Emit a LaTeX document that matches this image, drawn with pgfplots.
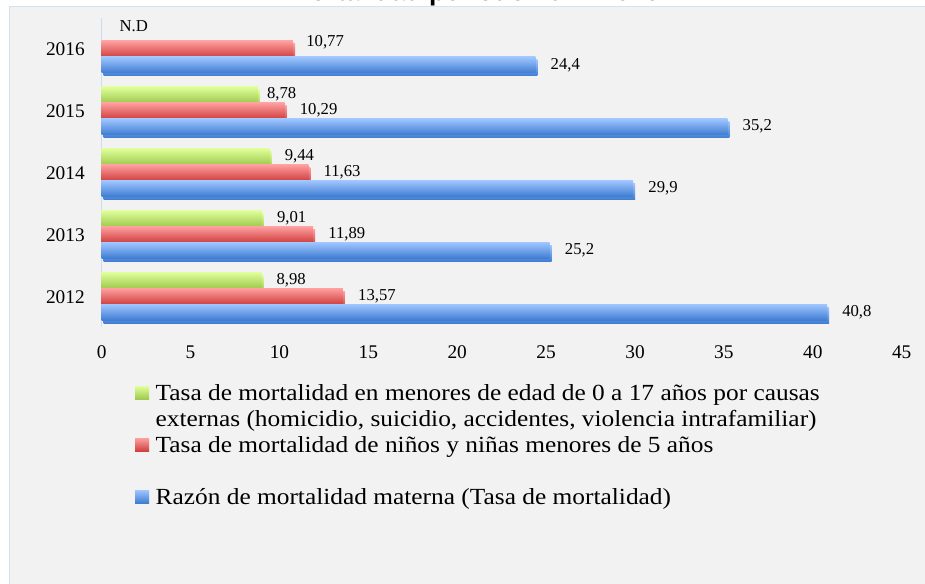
\documentclass[border=0pt]{standalone}
\usepackage{fontspec}
\setmainfont{Liberation Serif}
\newfontfamily\legendfont{Liberation Serif}[FakeStretch=1.1]
\newfontfamily\titlefont{Liberation Sans}
\usepackage{pgfplots}
\pgfplotsset{compat=1.18}
\definecolor{bg}{HTML}{F2F2F2}
\definecolor{framec}{HTML}{D6E1F0}
\definecolor{axisc}{HTML}{CCDDF2}
\definecolor{gtop}{HTML}{E0FF9C}
\definecolor{gbot}{HTML}{A0CA4E}
\definecolor{rtop}{HTML}{FFA0A0}
\definecolor{rbot}{HTML}{D04040}
\definecolor{btop}{HTML}{A0C6FF}
\definecolor{bbot}{HTML}{3F7DD2}
\definecolor{shadowc}{HTML}{CFCFCF}

\makeatletter
\tikzset{nopre/.code={\let\tikz@preactions\pgfutil@empty}}
\makeatother

\pgfplotsset{
  basebar/.style={xbar, bar width=12pt, draw=none,
    preaction={fill=shadowc, transform canvas={xshift=1.5pt, yshift=-2.25pt}},
    nodes near coords, point meta=explicit symbolic},
  gbar/.style={basebar, bar shift=12pt, top color=gtop, bottom color=gbot,
    nodes near coords style={yshift=12pt},
    legend image code/.code={\fill[nopre, top color=gtop, bottom color=gbot] (0pt,0.75pt) rectangle (10.5pt,10.5pt);}},
  rbar/.style={basebar, bar shift=0pt, top color=rtop, bottom color=rbot,
    legend image code/.code={\fill[nopre, top color=rtop, bottom color=rbot] (0pt,0.75pt) rectangle (10.5pt,10.5pt);}},
  bbar/.style={basebar, bar shift=-12pt, top color=btop, bottom color=bbot,
    nodes near coords style={yshift=-12pt},
    legend image code/.code={\fill[nopre, top color=btop, bottom color=bbot] (0pt,0.75pt) rectangle (10.5pt,10.5pt);}},
}

\begin{document}
\begin{tikzpicture}
\path[use as bounding box, clip] (0pt,0pt) rectangle (693.75pt,-438pt);
\fill[white] (0pt,0pt) rectangle (693.75pt,-438pt);
\fill[bg] (6.75pt,-5.25pt) rectangle (700pt,-445pt);
\draw[framec, line width=0.75pt] (6.75pt,-445pt) -- (6.75pt,-5.25pt) -- (700pt,-5.25pt);
\node[font=\titlefont\bfseries\fontsize{19.8}{23}\selectfont, anchor=base, inner sep=0pt] at (355.5pt,-0.75pt) {Mortalidad periodo 2012-2016};
\begin{axis}[
  at={(76.25pt,-245.25pt)}, anchor=south west,
  scale only axis, width=600pt, height=231.75pt,
  xmin=0, xmax=45, ymin=-0.5, ymax=4.5,
  xtick={0,5,...,45}, ytick={0,1,2,3,4},
  yticklabels={2012,2013,2014,2015,2016},
  axis lines*=left,
  x axis line style={draw=none},
  y axis line style={draw=axisc, line width=0.75pt},
  major tick length=0pt,
  tick label style={font=\fontsize{14.5}{17}\selectfont, inner sep=0pt, text=black},
  /pgf/number format/assume math mode=true,
  xticklabel style={anchor=base, yshift=-23.25pt},
  yticklabel style={anchor=base east, xshift=-12.5pt, yshift=-5.25pt},
  clip=false,
  nodes near coords style={font=\fontsize{12.5}{15}\selectfont, anchor=west, inner sep=0pt, xshift=11.25pt, text=black},
  legend style={at={(0.04167,-0.17735)}, anchor=north west, draw=none, fill=none,
    inner sep=0pt, outer sep=0pt, row sep=0pt, column sep=5pt,
    cells={anchor=base west},
    nodes={inner sep=0pt, text=black, text height=13.65pt, text depth=5.85pt,
      font=\legendfont\fontsize{17.3}{19.5}\selectfont}},
]
% 2012 (first bar of each series carries the legend entry)
\addplot[gbar] coordinates {(8.98,0) [8,98]};
\addlegendentry{Tasa de mortalidad en menores de edad de 0 a 17 años por causas}
\addlegendimage{empty legend}
\addlegendentry{externas (homicidio, suicidio, accidentes, violencia intrafamiliar)}
\addplot[rbar] coordinates {(13.57,0) [13,57]};
\addlegendentry{Tasa de mortalidad de niños y niñas menores de 5 años}
\addlegendimage{empty legend}
\addlegendentry{\mbox{}}
\addplot[bbar] coordinates {(40.8,0) [40,8]};
\addlegendentry{Razón de mortalidad materna (Tasa de mortalidad)}
% 2013
\addplot[gbar, forget plot] coordinates {(9.01,1) [9,01]};
\addplot[rbar, forget plot] coordinates {(11.89,1) [11,89]};
\addplot[bbar, forget plot] coordinates {(25.2,1) [25,2]};
% 2014
\addplot[gbar, forget plot] coordinates {(9.44,2) [9,44]};
\addplot[rbar, forget plot] coordinates {(11.63,2) [11,63]};
\addplot[bbar, forget plot] coordinates {(29.9,2) [29,9]};
% 2015
\addplot[gbar, forget plot, nodes near coords style={xshift=-4.5pt}] coordinates {(8.78,3) [8,78]};
\addplot[rbar, forget plot] coordinates {(10.29,3) [10,29]};
\addplot[bbar, forget plot] coordinates {(35.2,3) [35,2]};
% 2016 (no data for the first series)
\addplot[xbar, bar width=12pt, bar shift=12pt, draw=none, fill=none, forget plot,
  nodes near coords, point meta=explicit symbolic,
  nodes near coords style={xshift=2pt, yshift=17.25pt}]
  coordinates {(0,4) [N.D]};
\addplot[rbar, forget plot, nodes near coords style={yshift=5.25pt, xshift=-1.5pt}] coordinates {(10.77,4) [10,77]};
\addplot[bbar, forget plot] coordinates {(24.4,4) [24,4]};
\end{axis}
\end{tikzpicture}
\end{document}
